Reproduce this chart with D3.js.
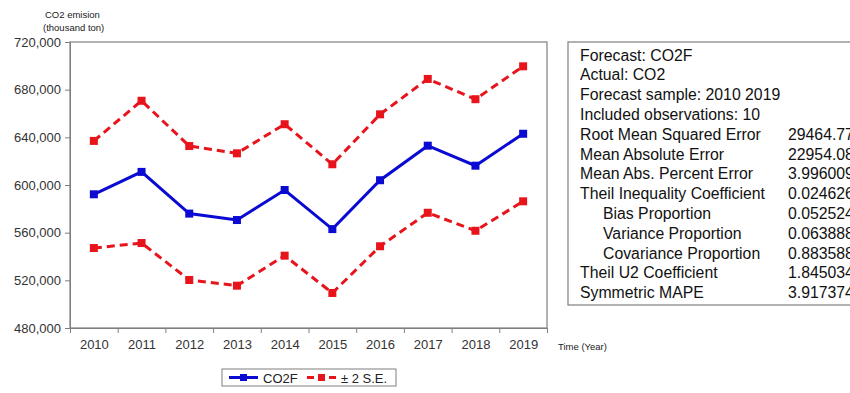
<!DOCTYPE html>
<html>
<head>
<meta charset="utf-8">
<script src="https://cdn.jsdelivr.net/npm/d3@7"></script>
<style>
  body { margin: 0; background: #fff; }
  svg { font-family: "Liberation Sans", Arial, sans-serif; }
</style>
</head>
<body>
<div id="chart"></div>
<script>
// Data
const years = [2010, 2011, 2012, 2013, 2014, 2015, 2016, 2017, 2018, 2019];
const co2f = [592200, 611000, 576000, 570600, 595800, 563000, 604000, 633000, 616200, 643000];
const upperSE = [637000, 670700, 632700, 626600, 651000, 617400, 659300, 689000, 672000, 699600];
const lowerSE = [547100, 551300, 520300, 515500, 540700, 509400, 548600, 576700, 561600, 586300];
const yTicks = [480000, 520000, 560000, 600000, 640000, 680000, 720000];

const statLabels = [
    "Forecast: CO2F", "Actual: CO2", "Forecast sample: 2010 2019", "Included observations: 10",
    "Root Mean Squared Error", "Mean Absolute Error", "Mean Abs. Percent Error",
    "Theil Inequality Coefficient", "Bias Proportion", "Variance Proportion",
    "Covariance Proportion", "Theil U2 Coefficient", "Symmetric MAPE"
];
const statValues = ["", "", "", "", "29464.77", "22954.08", "3.996009", "0.024626",
    "0.052524", "0.063888", "0.883588", "1.845034", "3.917374"];
const statIndent = [0, 0, 0, 0, 0, 0, 0, 0, 1, 1, 1, 0, 0];

const blue = "#0a0ad2", red = "#e8141c", axisGrey = "#7f7f7f", textCol = "#333";

const svg = d3.select("#chart").append("svg")
    .attr("width", 850)
    .attr("height", 393);

// plot area
const margin = { top: 42, left: 70 },
    width = 477,
    height = 286;

const g = svg.append("g").attr("transform", `translate(${margin.left},${margin.top})`);

const xScale = d3.scaleLinear().domain([2009.5, 2019.5]).range([0, width]);
const yScale = d3.scaleLinear().domain([480000, 720000]).range([height, 0]);

// frame
g.append("rect")
    .attr("width", width).attr("height", height)
    .attr("fill", "none").attr("stroke", axisGrey).attr("stroke-width", 1.2);

// y axis
const yAxis = g.append("g")
    .call(d3.axisLeft(yScale).tickValues(yTicks).tickFormat(d3.format(",")).tickSize(5).tickPadding(4));
yAxis.select(".domain").attr("stroke", axisGrey);
yAxis.selectAll("line").attr("stroke", axisGrey);
yAxis.selectAll("text").attr("fill", textCol).style("font-size", "13px");

// x axis: tick marks between years, labels at years
const xTickAxis = g.append("g")
    .attr("transform", `translate(0,${height})`)
    .call(d3.axisBottom(xScale).tickValues(years.slice(0, -1).map(d => d + 0.5).concat([2019.5]))
        .tickFormat("").tickSize(5));
xTickAxis.select(".domain").attr("stroke", axisGrey);
xTickAxis.selectAll("line").attr("stroke", axisGrey);

const xLabelAxis = g.append("g")
    .attr("transform", `translate(0,${height})`)
    .call(d3.axisBottom(xScale).tickValues(years).tickFormat(d3.format("d")).tickSize(0).tickPadding(12));
xLabelAxis.select(".domain").remove();
xLabelAxis.selectAll("text").attr("fill", textCol).style("font-size", "13px");

// axis titles
svg.append("text").attr("x", 45).attr("y", 18)
    .style("font-size", "9.5px").attr("fill", "#222").text("CO2 emision");
svg.append("text").attr("x", 43).attr("y", 31)
    .style("font-size", "9.5px").attr("fill", "#222").text("(thousand ton)");
svg.append("text").attr("x", 558).attr("y", 350)
    .style("font-size", "9.5px").attr("fill", "#222").text("Time (Year)");

// series
const line = d3.line()
    .x((d, i) => xScale(years[i]))
    .y(d => yScale(d));

const series = [
    { values: upperSE, color: red, dash: "8,5" },
    { values: lowerSE, color: red, dash: "8,5" },
    { values: co2f, color: blue, dash: null }
];

series.forEach(s => {
    g.append("path")
        .attr("d", line(s.values))
        .attr("fill", "none")
        .attr("stroke", s.color)
        .attr("stroke-width", 3)
        .attr("stroke-dasharray", s.dash);

    g.selectAll(null)
        .data(s.values)
        .enter()
        .append("rect")
        .attr("x", (d, i) => xScale(years[i]) - 4)
        .attr("y", d => yScale(d) - 4)
        .attr("width", 8)
        .attr("height", 8)
        .attr("fill", s.color);
});

// legend
const legend = svg.append("g").attr("transform", "translate(222,369)");
legend.append("rect").attr("width", 174).attr("height", 17)
    .attr("fill", "#fff").attr("stroke", axisGrey);

const legendItems = [
    { x: 7, label: "CO2F", color: blue, dash: null },
    { x: 85, label: "\u00b1 2 S.E.", color: red, dash: "7,4" }
];
legendItems.forEach(item => {
    legend.append("line")
        .attr("x1", item.x).attr("x2", item.x + 29)
        .attr("y1", 8.5).attr("y2", 8.5)
        .attr("stroke", item.color).attr("stroke-width", 3)
        .attr("stroke-dasharray", item.dash);
    legend.append("rect")
        .attr("x", item.x + 11).attr("y", 5).attr("width", 7).attr("height", 7)
        .attr("fill", item.color);
    legend.append("text")
        .attr("x", item.x + 34).attr("y", 13.5)
        .style("font-size", "13px").attr("fill", "#222")
        .text(item.label);
});

// statistics box
const stats = svg.append("g").attr("transform", "translate(568,42)");
stats.append("rect").attr("width", 320).attr("height", 263)
    .attr("fill", "#fff").attr("stroke", axisGrey).attr("stroke-width", 1.2);

statLabels.forEach((label, i) => {
    const y = 18.5 + i * 19.8;
    stats.append("text")
        .attr("x", 12 + statIndent[i] * 23).attr("y", y)
        .style("font-size", "15.8px").attr("fill", "#111")
        .text(label);
    if (statValues[i]) {
        stats.append("text")
            .attr("x", 220).attr("y", y)
            .style("font-size", "15.8px").attr("fill", "#111")
            .text(statValues[i]);
    }
});
</script>
</body>
</html>
